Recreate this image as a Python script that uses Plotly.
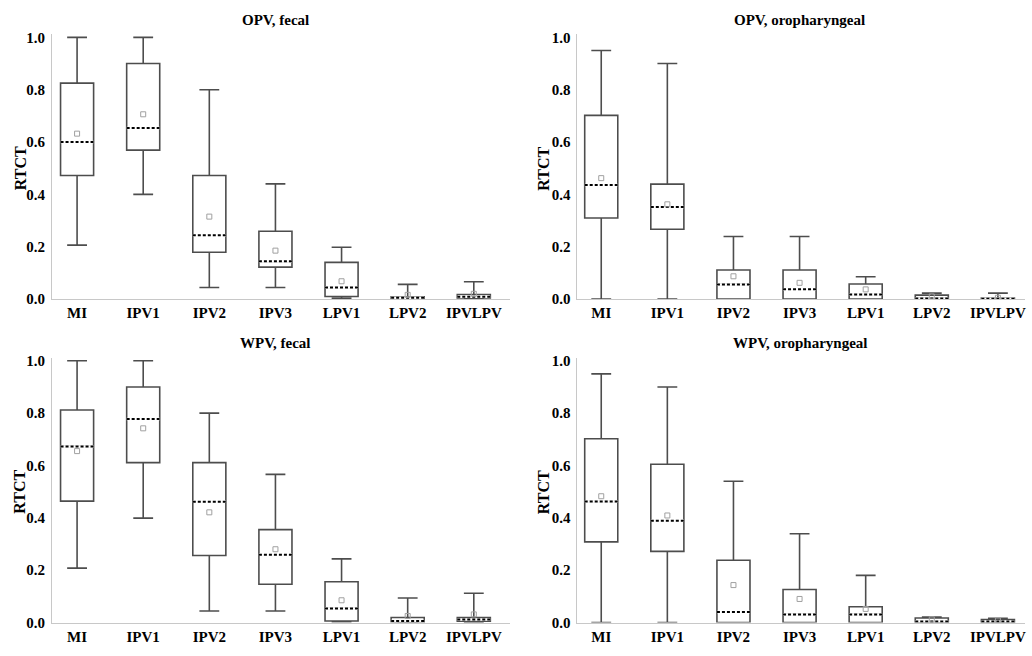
import plotly.graph_objects as go

categories = ["MI", "IPV1", "IPV2", "IPV3", "LPV1", "LPV2", "IPVLPV"]
panel_titles = ["OPV, fecal", "OPV, oropharyngeal", "WPV, fecal", "WPV, oropharyngeal"]

# OPV, fecal
opv_fecal_upper = [1.00, 1.00, 0.80, 0.44, 0.198, 0.056, 0.066]
opv_fecal_q3 = [0.825, 0.90, 0.472, 0.259, 0.14, 0.009, 0.0175]
opv_fecal_median = [0.60, 0.654, 0.244, 0.144, 0.044, 0.005, 0.009]
opv_fecal_q1 = [0.472, 0.569, 0.179, 0.122, 0.010, 0.002, 0.004]
opv_fecal_lower = [0.206, 0.40, 0.044, 0.044, 0.0025, 0.0, 0.0]
opv_fecal_mean = [0.632, 0.706, 0.315, 0.185, 0.068, 0.016, 0.020]

# OPV, oropharyngeal
opv_oro_upper = [0.95, 0.90, 0.239, 0.239, 0.085, 0.0225, 0.0225]
opv_oro_q3 = [0.702, 0.439, 0.111, 0.111, 0.0575, 0.015, 0.004]
opv_oro_median = [0.436, 0.352, 0.056, 0.0375, 0.0175, 0.0025, 0.001]
opv_oro_q1 = [0.31, 0.267, 0.0, 0.0, 0.0, 0.0, 0.0]
opv_oro_lower = [0.0, 0.0, 0.0, 0.0, 0.0, 0.0, 0.0]
opv_oro_mean = [0.462, 0.362, 0.087, 0.062, 0.037, 0.010, 0.005]

# WPV, fecal
wpv_fecal_upper = [1.00, 1.00, 0.80, 0.566, 0.243, 0.0935, 0.112]
wpv_fecal_q3 = [0.812, 0.90, 0.611, 0.355, 0.156, 0.019, 0.019]
wpv_fecal_median = [0.673, 0.778, 0.461, 0.259, 0.054, 0.006, 0.012]
wpv_fecal_q1 = [0.464, 0.611, 0.256, 0.146, 0.006, 0.002, 0.005]
wpv_fecal_lower = [0.208, 0.399, 0.044, 0.044, 0.002, 0.0, 0.0]
wpv_fecal_mean = [0.655, 0.742, 0.421, 0.28, 0.085, 0.025, 0.031]

# WPV, oropharyngeal
wpv_oro_upper = [0.95, 0.90, 0.54, 0.339, 0.18, 0.021, 0.016]
wpv_oro_q3 = [0.702, 0.605, 0.238, 0.126, 0.060, 0.0175, 0.011]
wpv_oro_median = [0.4626, 0.389, 0.040, 0.031, 0.031, 0.004, 0.004]
wpv_oro_q1 = [0.308, 0.272, 0.0, 0.0, 0.0, 0.0, 0.0]
wpv_oro_lower = [0.0, 0.0, 0.0, 0.0, 0.0, 0.0, 0.0]
wpv_oro_mean = [0.4825, 0.409, 0.143, 0.09, 0.052, 0.012, 0.008]

y_ticks = [0.0, 0.2, 0.4, 0.6, 0.8, 1.0]

panels = [
    (opv_fecal_upper, opv_fecal_q3, opv_fecal_median, opv_fecal_q1, opv_fecal_lower, opv_fecal_mean),
    (opv_oro_upper, opv_oro_q3, opv_oro_median, opv_oro_q1, opv_oro_lower, opv_oro_mean),
    (wpv_fecal_upper, wpv_fecal_q3, wpv_fecal_median, wpv_fecal_q1, wpv_fecal_lower, wpv_fecal_mean),
    (wpv_oro_upper, wpv_oro_q3, wpv_oro_median, wpv_oro_q1, wpv_oro_lower, wpv_oro_mean),
]

W, H = 1032, 656
BOX_W = 0.5
FONT = "Liberation Serif"
BOX_COLOR = "#4d4d4d"

# pixel layout per panel: (x_left, x_right, y_top_of_1.0, y_zero, x_range, title_x, title_y, ylabel_x)
geo = [
    (52, 510, 33, 300, [-0.38, 6.54], 276, 15, 20),
    (578, 1026, 33, 300, [-0.36, 6.41], 800, 15, 544),
    (52, 510, 363, 630, [-0.38, 6.54], 276, 345, 20),
    (578, 1026, 363, 630, [-0.36, 6.41], 801, 345, 544),
]
YMAX = 1.012

fig = go.Figure()
xs = list(range(len(categories)))
layout = {}
annotations = []

for p, (upper, q3, med, q1, lower, mean) in enumerate(panels):
    sfx = "" if p == 0 else str(p + 1)
    xa, ya = "x" + sfx, "y" + sfx
    fig.add_trace(go.Box(
        x=xs, q1=q1, median=med, q3=q3, lowerfence=lower, upperfence=upper,
        width=BOX_W, whiskerwidth=0.6, boxpoints=False,
        line=dict(color=BOX_COLOR, width=1.6), fillcolor="white",
        xaxis=xa, yaxis=ya, showlegend=False, hoverinfo="skip",
    ))
    mx, my = [], []
    for i, m in enumerate(med):
        mx += [i - BOX_W / 2, i + BOX_W / 2, None]
        my += [m, m, None]
    fig.add_trace(go.Scatter(x=mx, y=my, mode="lines", line=dict(color="white", width=2.5),
                             xaxis=xa, yaxis=ya, showlegend=False, hoverinfo="skip"))
    fig.add_trace(go.Scatter(x=mx, y=my, mode="lines", line=dict(color="black", width=2, dash="3px,2px"),
                             xaxis=xa, yaxis=ya, showlegend=False, hoverinfo="skip"))
    fig.add_trace(go.Scatter(x=xs, y=mean, mode="markers",
                             marker=dict(symbol="square-open", size=5, color="#a0a0a0", line=dict(width=1)),
                             xaxis=xa, yaxis=ya, showlegend=False, hoverinfo="skip"))

    xl, xr, yt, y0, xr_range, tx, ty, lx = geo[p]
    ytop_px = y0 - (y0 - yt) * YMAX
    xdom = [xl / W, xr / W]
    ydom = [1 - y0 / H, 1 - ytop_px / H]
    layout["xaxis" + sfx] = dict(
        domain=xdom, range=xr_range, anchor=ya, tickmode="array", tickvals=xs, ticktext=categories,
        showline=True, linecolor="#c8c8c8", linewidth=1, showgrid=False, zeroline=False, ticks="",
        tickfont=dict(family=FONT, size=15, color="black", weight="bold"),
    )
    layout["yaxis" + sfx] = dict(
        domain=ydom, range=[0, YMAX], anchor=xa, tickmode="array", tickvals=y_ticks, tickformat=".1f",
        showline=True, linecolor="#c8c8c8", linewidth=1, showgrid=False, zeroline=False, ticks="",
        ticklabelstandoff=3,
        tickfont=dict(family=FONT, size=15, color="black", weight="bold"),
    )
    annotations.append(dict(
        text=panel_titles[p], x=tx / W, y=1 - ty / H,
        xref="paper", yref="paper", showarrow=False, xanchor="center", yanchor="middle",
        font=dict(family=FONT, size=15, color="black", weight="bold"),
    ))
    annotations.append(dict(
        text="RTCT", x=lx / W, y=1 - ((yt + y0) / 2) / H,
        xref="paper", yref="paper", showarrow=False, textangle=-90, xanchor="center", yanchor="middle",
        font=dict(family=FONT, size=16, color="black", weight="bold"),
    ))

fig.update_layout(
    width=W, height=H, margin=dict(l=0, r=0, t=0, b=0),
    plot_bgcolor="white", paper_bgcolor="white",
    annotations=annotations, **layout,
)

fig.write_html("out.html")
